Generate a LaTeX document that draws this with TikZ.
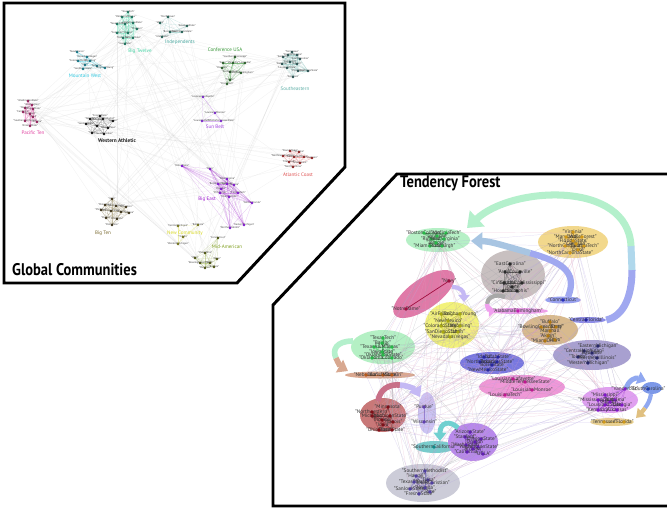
\documentclass[tikz,border=0pt]{standalone}
\usepackage{fontspec}
\setmainfont{PT Sans}
\usepackage{tikz}
\usetikzlibrary{arrows.meta}
\usetikzlibrary{shapes.geometric}

% dot colours, left panel
\definecolor{bt}{HTML}{1A6E5A}\definecolor{btl}{HTML}{44D4A4}
\definecolor{ind}{HTML}{205C50}\definecolor{indl}{HTML}{4AA8A0}
\definecolor{mw}{HTML}{157080}\definecolor{mwl}{HTML}{30C8E0}
\definecolor{cu}{HTML}{285A28}\definecolor{cul}{HTML}{3A9A3A}
\definecolor{sec}{HTML}{2A5050}\definecolor{secl}{HTML}{60B0A8}
\definecolor{sb}{HTML}{7A28C8}\definecolor{sbl}{HTML}{A040E0}
\definecolor{pac}{HTML}{902058}\definecolor{pacl}{HTML}{E040A0}
\definecolor{wac}{HTML}{111111}\definecolor{wacl}{HTML}{222222}
\definecolor{acc}{HTML}{8A2020}\definecolor{accl}{HTML}{E05555}
\definecolor{be}{HTML}{8018D0}\definecolor{bel}{HTML}{A020D0}
\definecolor{bten}{HTML}{3A3018}\definecolor{btenl}{HTML}{7A6A30}
\definecolor{nc}{HTML}{707018}\definecolor{ncl}{HTML}{D8D820}
\definecolor{mac}{HTML}{4A5010}\definecolor{macl}{HTML}{80A020}
% dot colours, right panel
\definecolor{d1}{HTML}{28B848}\definecolor{d2}{HTML}{D09818}
\definecolor{d3}{HTML}{2A2A2A}\definecolor{d4}{HTML}{A01040}
\definecolor{d5}{HTML}{A8A810}\definecolor{d6}{HTML}{2830C0}
\definecolor{d7}{HTML}{C020B0}\definecolor{d8}{HTML}{2020A0}
\definecolor{d9}{HTML}{B07810}\definecolor{d10}{HTML}{282868}
\definecolor{d12}{HTML}{B85818}\definecolor{d13}{HTML}{2828A0}
\definecolor{d14}{HTML}{C01890}\definecolor{d15}{HTML}{8018C8}
\definecolor{d16}{HTML}{2040B0}\definecolor{d18}{HTML}{801018}
\definecolor{d19}{HTML}{6040B0}\definecolor{d20}{HTML}{108888}
\definecolor{d21}{HTML}{6020B0}\definecolor{d22}{HTML}{5040A0}
% group fills
\definecolor{f1}{HTML}{B6F0C6}\definecolor{f2}{HTML}{F2D88C}
\definecolor{f3}{HTML}{C8C0C0}\definecolor{f4}{HTML}{E07AA8}
\definecolor{f5}{HTML}{F2F27A}\definecolor{f6}{HTML}{98A0EE}
\definecolor{f7}{HTML}{F0A0EE}\definecolor{f8}{HTML}{8C8CE8}
\definecolor{f9}{HTML}{D8BA8E}\definecolor{f10}{HTML}{A8A0D0}
\definecolor{f11}{HTML}{B4F0C4}\definecolor{f12}{HTML}{DAA890}
\definecolor{f13}{HTML}{7878E0}\definecolor{f14}{HTML}{F098D8}
\definecolor{f15}{HTML}{E0A0F0}\definecolor{f16}{HTML}{7C98E8}
\definecolor{f17}{HTML}{E8D090}\definecolor{f18}{HTML}{C87878}
\definecolor{f19}{HTML}{CCC4F4}\definecolor{f20}{HTML}{78CCCC}
\definecolor{f21}{HTML}{B888EC}\definecolor{f22}{HTML}{CCCCD8}
% edges and arrows
\definecolor{e0}{HTML}{A0A0A8}\definecolor{e1}{HTML}{E0A0C0}
\definecolor{e2}{HTML}{B0A0E0}
\definecolor{cmint}{HTML}{B4F0CC}\definecolor{cfl}{HTML}{A0A8F0}
\definecolor{cmix}{HTML}{B0D8EC}\definecolor{clav}{HTML}{C4B8F4}
\definecolor{cgray}{HTML}{A8A8A8}\definecolor{cpink}{HTML}{F0A0EE}
\definecolor{csalmon}{HTML}{D8A890}\definecolor{cmaroon}{HTML}{C87088}
\definecolor{cteal}{HTML}{70D0D0}\definecolor{cblue}{HTML}{90A8F0}
\definecolor{ctan}{HTML}{E0C080}

\newcommand\gteams{%
128/12/TexasTech/bt, 122/17/Oklahoma/bt, 132/17/Baylor/bt, 117/24/TexasA\&M/bt,
125/24/Texas/bt, 133/23/OklahomaState/bt, 137/29/Missouri/bt, 117/33/Colorado/bt,
128/33/Kansas/bt, 123/38/Nebraska/bt, 133/38/KansasState/bt, 125/44/IowaState/bt,
168/17/NorthTexas/ind, 160/23/Idaho/ind, 187/26/ArkansasState/ind, 170/32/BoiseState/ind,
182/32/NewMexicoState/ind, 162/37/UtahState/ind,
77/52/NewMexico/mw, 87/57/NevadaLasVegas/mw, 78/61/ColoradoState/mw, 90/61/Wyoming/mw,
85/65/Utah/mw, 97/66/AirForce/mw, 105/68/BrighamYoung/mw, 83/69/SanDiegoState/mw,
235/57/SouthernMississippi/cu, 223/63/Army/cu, 233/63/Memphis/cu, 245/63/Louisville/cu,
222/68/Houston/cu, 230/72/EastCarolina/cu, 241/73/AlabamaBirmingham/cu, 230/80/Tulane/cu,
227/84/Cincinnati/cu,
292/52/Tennessee/sec, 288/55/Florida/sec, 297/55/Georgia/sec, 283/57/Kentucky/sec,
300/59/SouthCarolina/sec, 290/62/Vanderbilt/sec, 282/64/Alabama/sec, 297/64/Auburn/sec,
287/68/LouisianaState/sec, 298/71/Mississippi/sec, 308/71/MississippiState/sec, 293/77/Arkansas/sec,
203/97/LouisianaLafayette/sb, 215/113/LouisianaMonroe/sb, 202/121/LouisianaTech/sb,
221/121/MiddleTennesseeState/sb,
28/101/WashingtonState/pac, 32/105/Washington/pac, 25/108/Oregon/pac, 33/109/OregonState/pac,
23/112/California/pac, 30/114/Stanford/pac, 33/117/UCLA/pac, 25/121/SouthernCalifornia/pac,
37/122/Arizona/pac, 30/126/ArizonaState/pac,
100/116/FresnoState/wac, 90/119/Nevada/wac, 103/119/SouthernMethodist/wac, 113/121/Hawaii/wac,
86/124/SanJoseState/wac, 97/126/Rice/wac, 108/128/TexasElPaso/wac, 92/133/Tulsa/wac,
104/134/TexasChristian/wac,
290/151/FloridaState/acc, 299/152/Virginia/acc, 283/156/NorthCarolinaState/acc,
294/157/GeorgiaTech/acc, 304/157/Duke/acc, 312/158/Clemson/acc, 289/162/Maryland/acc,
300/163/WakeForest/acc, 293/167/NorthCarolina/acc,
182/166/NotreDame/be, 210/169/Navy/be, 227/179/WestVirginia/be, 218/184/BostonCollege/be,
227/184/Syracuse/be, 234/185/Temple/be, 221/189/Rutgers/be, 238/193/VirginiaTech/be,
220/193/Pittsburgh/be, 229/197/MiamiFlorida/be, 252/203/CentralFlorida/be,
244/225/EasternMichigan/be, 230/228/NorthernIllinois/be,
112/199/Iowa/bten, 105/205/Minnesota/bten, 116/206/Northwestern/bten, 126/207/Wisconsin/bten,
101/210/Michigan/bten, 111/211/MichiganState/bten, 121/212/Illinois/bten, 129/213/Indiana/bten,
106/218/Purdue/bten, 117/219/OhioState/bten, 112/225/PennState/bten,
178/226/CentralMichigan/nc, 198/225/BallState/nc, 183/237/Toledo/nc, 178/244/WesternMichigan/nc,
218/238/Connecticut/mac, 205/253/MiamiOhio/mac, 195/258/Ohio/mac, 217/259/Akron/mac,
200/263/BowlingGreenState/mac, 210/263/Kent/mac, 205/268/Marshall/mac, 214/267/Buffalo/mac}

\newcommand\hteams{%
424/233/BostonCollege/d1, 446/233/VirginiaTech/d1, 431/239/Rutgers/d1, 444/239/WestVirginia/d1,
437/236/Syracuse/d1, 430/246/MiamiFlorida/d1, 442/246/Pittsburgh/d1, 436/243/Temple/d1,
573/232/Virginia/d2, 566/237/Maryland/d2, 582/237/WakeForest/d2, 573/241/FloridaState/d2,
565/246/NorthCarolina/d2, 584/246/GeorgiaTech/d2, 578/250/Duke/d2, 570/253/NorthCarolinaState/d2,
576/244/Clemson/d2,
510/264/EastCarolina/d3, 505/272/Army/d3, 520/272/Louisville/d3, 504/283/Cincinnati/d3,
522/283/SouthernMississippi/d3, 503/291/Houston/d3, 517/291/Memphis/d3, 512/287/Tulane/d3,
449/281/Navy/d4, 406/309/NotreDame/d4,
441/314/AirForce/d5, 460/314/BrighamYoung/d5, 448/321/NewMexico/d5, 441/326/ColoradoState/d5,
460/326/Wyoming/d5, 443/332/SanDiegoState/d5, 458/332/Utah/d5, 450/337/NevadaLasVegas/d5,
563/300/Connecticut/d6, 518/311/AlabamaBirmingham/d7, 586/320/CentralFlorida/d8,
550/322/Buffalo/d9, 541/327/BowlingGreenState/d9, 550/331/Marshall/d9, 556/327/Kent/d9,
548/336/Akron/d9, 545/341/MiamiOhio/d9, 555/340/Ohio/d9,
598/346/EasternMichigan/d10, 584/351/CentralMichigan/d10, 578/357/Toledo/d10,
597/358/NorthernIllinois/d10, 588/363/WesternMichigan/d10, 592/353/BallState/d10,
383/338/TexasTech/d1, 382/343/Baylor/d1, 374/347/TexasA\&M/d1, 392/347/Texas/d1,
382/352/IowaState/d1, 372/358/Oklahoma/d1, 392/358/Colorado/d1, 383/355/OklahomaState/d1,
366/375/Nebraska/d12, 383/375/KansasState/d12, 392/375/Missouri/d12,
484/357/Idaho/d13, 498/357/UtahState/d13, 480/362/NorthTexas/d13, 497/362/ArkansasState/d13,
488/370/NewMexicoState/d13, 492/365/BoiseState/d13,
513/379/LouisianaLafayette/d14, 525/382/MiddleTennesseeState/d14, 532/390/LouisianaMonroe/d14,
505/395/LouisianaTech/d14,
625/389/Vanderbilt/d15, 605/395/Mississippi/d15, 598/400/MississippiState/d15, 615/400/Alabama/d15,
605/405/LouisianaState/d15, 622/405/Georgia/d15, 598/410/Kentucky/d15, 617/410/Arkansas/d15,
610/402/Auburn/d15,
648/389/SouthCarolina/d16, 604/422/Tennessee/d2, 624/422/Florida/d2,
388/407/Minnesota/d18, 372/412/Northwestern/d18, 372/416/Michigan/d18, 390/416/MichiganState/d18,
382/420/Indiana/d18, 393/422/Illinois/d18, 379/430/OhioState/d18, 392/430/PennState/d18,
383/425/Iowa/d18,
424/407/Purdue/d19, 424/422/Wisconsin/d19, 434/447/SouthernCalifornia/d20,
470/432/ArizonaState/d21, 465/437/Stanford/d21, 481/439/OregonState/d21, 466/445/Washington/d21,
478/447/WashingtonState/d21, 467/452/California/d21, 483/454/UCLA/d21, 473/449/Arizona/d21,
475/442/Oregon/d21,
425/471/SouthernMethodist/d22, 416/476/Hawaii/d22, 428/480/Tulsa/d22, 414/482/TexasElPaso/d22,
432/483/TexasChristian/d22, 410/489/SanJoseState/d22, 425/488/Nevada/d22, 419/494/FresnoState/d22,
430/492/Rice/d22}

\newcommand\hgroups{%
438/240/32/12/0/f1, 573/242/35/16/0/f2, 513/275/32/25/0/f3, 424/294/36/15/35/f4,
452/325/27/23/0/f5, 563/300/18/3.5/0/f6, 518/311/30/3/0/f7, 587/320/19/3/0/f8,
550/330/28/15/0/f9, 592/355/39/15/0/f10, 383/347/32/17/0/f11, 380/375/35/3.5/0/f12,
492/363/32/11/0/f13, 522/387/43/12/0/f14, 610/400/28/13/0/f15, 652/388/10/6/0/f16,
612/422/22/4/0/f17, 383/415/23/17/0/f18, 427/413/9/21/0/f19, 435/447/20/6/0/f20,
473/442/25/19/0/f21, 423/483/37/19/0/f22}

\tikzset{
  panel/.style={line width=2.1pt, line join=miter},
  title/.style={font=\fontsize{12}{14}\selectfont\bfseries, anchor=west, inner sep=0, xscale=0.86},
  comm/.style={font=\fontsize{3.6}{4}\selectfont, inner sep=0},
  gname/.style={font=\fontsize{1.9}{2}\selectfont, text=black!75, inner sep=0},
  hname/.style={font=\fontsize{3.7}{4}\selectfont, text=black!80, inner sep=0},
  gedge/.style={draw=black!20, line width=0.12pt, opacity=0.35},
  hedge/.style={line width=0.15pt, opacity=0.45},
  grp/.style={ellipse, inner sep=0, draw=none},
  band/.style={line width=5pt},
}

\begin{document}
\begin{tikzpicture}[x=0.025cm,y=-0.025cm]
\useasboundingbox (0,0) rectangle (667,509);
\fill[white] (0,0) rectangle (667,509);

\draw[panel] (4,3) -- (345,3) -- (345,167) -- (237,283) -- (4,283) -- cycle;
\draw[panel] (668,174) -- (397,174) -- (273,305) -- (273,506) -- (668,506);

% global communities
\foreach \x/\y/\t/\c [count=\i] in \gteams {
    \coordinate (g\i) at (\x,\y);
}
\pgfmathsetseed{42}
\foreach \k in {1,...,150} {
    \pgfmathrandominteger{\a}{1}{115}
    \pgfmathrandominteger{\b}{1}{115}
    \draw[gedge] (g\a) -- (g\b);
}
\foreach \a/\b/\c in {1/12/btl, 13/18/indl, 19/26/mwl, 27/35/cul, 36/47/secl, 48/51/sbl,
    52/61/pacl, 62/70/wacl, 71/79/accl, 80/92/bel, 93/103/btenl, 104/107/ncl, 108/115/macl} {
    \foreach \i in {\a,...,\b} {
        \foreach \j in {\i,...,\b} {
            \draw[\c, line width=0.12pt, opacity=0.35] (g\i) -- (g\j);
        }
    }
}
\foreach \x/\y/\t/\c [count=\i] in \gteams {
    \node[gname] at (g\i) {"\t"};
    \fill[\c] (g\i) circle (1.3);
}
\node[comm, text=btl] (bigtwelve) at (140,51) {Big Twelve};
\node[comm, text=indl] (indep) at (180,42) {Independents};
\node[comm, text=cul] (cusa) at (225,50) {Conference USA};
\node[comm, text=mwl] (mwest) at (85,76) {Mountain West};
\node[comm, text=secl] (seast) at (295,89) {Southeastern};
\node[comm, text=sbl] (sunbelt) at (215,127) {Sun Belt};
\node[comm, text=pacl] (pacten) at (33,133) {Pacific Ten};
\node[comm, text=wacl, font=\fontsize{3.8}{4}\selectfont\bfseries] (wathl) at (117,141) {Western Athletic};
\node[comm, text=accl] (acoast) at (298,175) {Atlantic Coast};
\node[comm, text=bel] (bigeast) at (207,199) {Big East};
\node[comm, text=ncl] (newcomm) at (185,233) {New Community};
\node[comm, text=macl] (midam) at (227,247) {Mid-American};
\node[comm, text=btenl] (bigten) at (103,233) {Big Ten};
\node[title] (gc) at (12,270) {Global Communities};

% tendency forest
\foreach \x/\y/\rx/\ry/\r/\c [count=\i] in \hgroups {
    \node[grp, fill=\c, minimum width=2*\rx*0.025cm, minimum height=2*\ry*0.025cm,
        rotate=\r] (e\i) at (\x,\y) {};
}
\foreach \x/\y/\t/\c [count=\i] in \hteams {
    \coordinate (h\i) at (\x,\y);
}
\pgfmathsetseed{7}
\foreach \k in {1,...,230} {
    \pgfmathrandominteger{\a}{1}{114}
    \pgfmathrandominteger{\b}{1}{114}
    \pgfmathtruncatemacro{\m}{mod(\k,3)}
    \draw[hedge, e\m] (h\a) -- (h\b);
}
\foreach \a/\b/\c in {1/8/d1, 9/17/d2, 18/25/d3, 28/35/d5, 39/45/d9, 46/51/d10, 52/59/d1,
    60/62/d12, 63/68/d13, 69/72/d14, 73/81/d15, 83/84/d2, 85/93/d18, 94/95/d19,
    97/105/d21, 106/114/d22} {
    \foreach \i in {\a,...,\b} {
        \foreach \j in {\i,...,\b} {
            \draw[\c, line width=0.15pt, opacity=0.5] (h\i) -- (h\j);
        }
    }
}
\draw[d4, line width=0.5pt] (h26) -- (h27);

\coordinate (a1) at (632,270);
\coordinate (a2) at (631,246);
\coordinate (ta) at (467,228);
\draw[band, cfl] (e8.east) .. controls (624,316) and (632,296) .. (a1);
\draw[band, cmix] (a1) -- (a2);
\draw[band, cmint, -{Triangle[width=15pt,length=10pt]}] (a2) .. controls (628,180) and (512,186) .. (ta);

\coordinate (b1) at (568,297);
\coordinate (b2) at (530,253);
\coordinate (tb) at (471,241);
\draw[band, cfl, line width=4.5pt] (b1) .. controls (578,272) and (562,262) .. (b2);
\draw[band, cfl!60!cmint, line width=4.5pt, -{Triangle[width=12pt,length=8pt]}] (b2) .. controls (505,246) and (490,241) .. (tb);

\coordinate (c1) at (452,287);
\coordinate (tc) at (464,302);
\draw[band, clav, line width=3pt, -{Triangle[width=8pt,length=5pt]}] (c1) .. controls (460,287) and (464,291) .. (tc);

\coordinate (d1) at (505,297);
\coordinate (d2) at (487,304);
\coordinate (td) at (496,311);
\draw[band, cgray, line width=3pt] (d1) .. controls (495,293) and (487,298) .. (d2);
\draw[band, cpink, line width=3pt, -{Triangle[width=8pt,length=5pt]}] (d2) .. controls (487,309) and (490,311) .. (td);

\coordinate (f1) at (353,341);
\coordinate (f2) at (336,358);
\coordinate (tf) at (348,371);
\draw[band, cmint, line width=4pt] (f1) .. controls (336,341) and (332,350) .. (f2);
\draw[band, csalmon, line width=4pt, -{Triangle[width=10pt,length=7pt]}] (f2) .. controls (338,363) and (341,367) .. (tf);

\coordinate (m1) at (378,401);
\coordinate (m2) at (400,385);
\coordinate (tm) at (420,397);
\draw[band, cmaroon, line width=4pt] (m1) .. controls (380,389) and (389,384) .. (m2);
\draw[band, clav, line width=4pt, -{Triangle[width=10pt,length=7pt]}] (m2) .. controls (410,386) and (416,390) .. (tm);

\coordinate (s1) at (458,428);
\coordinate (ts) at (440,441);
\draw[band, cteal, line width=3.5pt, -{Triangle[width=9pt,length=6pt]}] (s1) .. controls (450,420) and (440,422) .. (ts);

\coordinate (v1) at (626,389);
\coordinate (tv) at (646,381);
\draw[band, cblue, line width=3.5pt, -{Triangle[width=9pt,length=6pt]}] (v1) .. controls (628,380) and (636,377) .. (tv);

\coordinate (k1) at (651,394);
\coordinate (k2) at (645,408);
\coordinate (tk) at (636,418);
\draw[band, cblue, line width=3pt] (k1) .. controls (650,400) and (648,404) .. (k2);
\draw[band, ctan, line width=3pt, -{Triangle[width=8pt,length=6pt]}] (k2) .. controls (643,411) and (640,414) .. (tk);

\foreach \x/\y/\t/\c [count=\i] in \hteams {
    \node[hname] at (h\i) {"\t"};
    \fill[\c] (h\i) circle (1.8);
}
\node[title] (tforest) at (400,183) {Tendency Forest};
\end{tikzpicture}
\end{document}
